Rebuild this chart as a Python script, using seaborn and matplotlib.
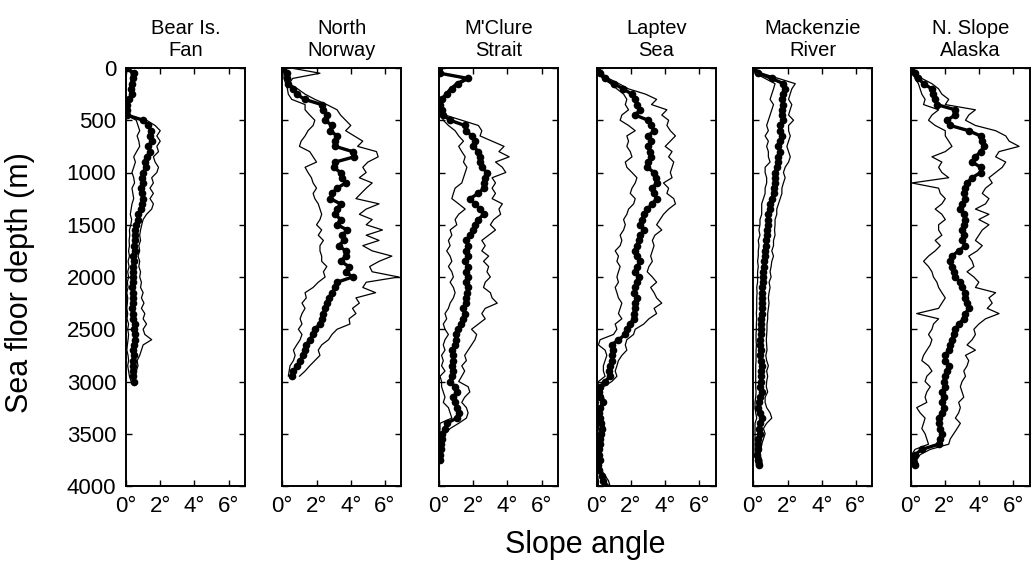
import numpy as np
import matplotlib
matplotlib.use("Agg")
import matplotlib.pyplot as plt
import seaborn as sns

# ---------------- data (slope angle in degrees, sampled every 50 m of depth) ----------------
STEP_M = 50

regions = ["Bear Is.\nFan", "North\nNorway", "M'Clure\nStrait", "Laptev\nSea",
           "Mackenzie\nRiver", "N. Slope\nAlaska"]

bear_mean = [0.05, 0.45, 0.4, 0.35, 0.3, 0.35, 0.2, 0.05, 0.05, 0.05,
             1.0, 1.3, 1.45, 1.4, 1.5, 1.3, 1.4, 1.2, 1.1, 1.15,
             1.0, 0.95, 1.0, 0.9, 0.92, 0.98, 0.95, 0.9, 0.72, 0.68,
             0.6, 0.55, 0.5, 0.52, 0.45, 0.5, 0.42, 0.45, 0.4, 0.42,
             0.38, 0.4, 0.35, 0.4, 0.38, 0.42, 0.35, 0.4, 0.42, 0.5,
             0.45, 0.5, 0.55, 0.45, 0.4, 0.45, 0.4, 0.42, 0.38, 0.4,
             0.45]
bear_upper = [0.1, 0.55, 0.5, 0.45, 0.4, 0.45, 0.3, 0.1, 0.1, 0.1,
              1.2, 1.7, 2.0, 1.8, 2.0, 1.8, 1.9, 1.6, 1.7, 1.9,
              1.8, 1.5, 1.6, 1.4, 1.6, 1.4, 1.6, 1.5, 1.2, 1.0,
              0.92, 0.85, 0.8, 0.85, 0.75, 0.8, 0.7, 0.8, 0.75, 0.85,
              0.8, 0.9, 0.85, 1.0, 0.9, 1.05, 0.9, 1.1, 1.0, 1.2,
              1.0, 1.1, 1.5, 1.0, 0.9, 0.8, 0.65, 0.7, 0.6, 0.55,
              0.5]
bear_lower = [0.0, 0.3, 0.3, 0.25, 0.2, 0.25, 0.1, 0.0, 0.0, 0.0,
              0.6, 0.7, 0.8, 0.65, 0.75, 0.8, 0.62, 0.45, 0.55, 0.45,
              0.35, 0.45, 0.5, 0.35, 0.4, 0.45, 0.35, 0.3, 0.25, 0.33,
              0.28, 0.2, 0.22, 0.18, 0.2, 0.15, 0.2, 0.12, 0.18, 0.1,
              0.15, 0.08, 0.12, 0.05, 0.1, 0.08, 0.05, 0.1, 0.06, 0.15,
              0.1, 0.15, 0.12, 0.08, 0.05, 0.12, 0.15, 0.1, 0.15, 0.2,
              0.3]

norway_mean = [0.05, 0.3, 0.25, 0.35, 0.6, 0.84, 1.3, 2.3, 2.4, 2.6,
               2.5, 2.9, 2.8, 3.2, 3.1, 3.1, 4.1, 4.2, 3.1, 3.0,
               3.4, 3.5, 3.7, 3.2, 2.9, 2.8, 3.4, 3.2, 3.1, 3.4,
               3.2, 3.8, 3.5, 3.6, 3.3, 3.7, 3.7, 3.4, 3.9, 3.7,
               4.1, 3.2, 3.1, 2.9, 2.7, 2.6, 2.5, 2.4, 2.3, 2.2,
               1.9, 1.8, 1.6, 1.4, 1.3, 1.2, 1.04, 0.85, 0.65, 0.55]
norway_upper = [0.5, 2.2, 0.6, 0.4, 0.9, 1.33, 1.9, 2.6, 3.2, 3.4,
                3.7, 4.0, 3.7, 4.2, 4.7, 4.4, 5.5, 5.6, 5.0, 4.7,
                4.9, 4.5, 5.25, 4.9, 4.6, 4.3, 5.65, 4.9, 4.5, 5.25,
                4.9, 5.85, 4.9, 5.65, 4.7, 5.25, 6.4, 5.65, 5.1, 5.25,
                6.8, 4.9, 4.7, 5.45, 4.3, 4.5, 4.1, 4.3, 3.9, 3.95,
                3.2, 2.9, 2.7, 2.3, 2.1, 2.2, 1.9, 1.6, 1.33, 1.0]
norway_lower = [0.0, 0.1, 0.1, 0.2, 0.3, 0.35, 0.55, 1.33, 1.33, 1.6,
                1.9, 1.8, 1.5, 1.33, 1.1, 1.0, 1.6, 1.8, 2.0, 1.33,
                1.5, 1.7, 1.8, 2.0, 1.8, 1.9, 2.1, 2.2, 2.3, 2.2,
                2.0, 2.3, 2.1, 2.4, 2.2, 2.2, 2.3, 2.3, 2.6, 2.4,
                2.5, 2.1, 1.8, 1.33, 1.4, 1.15, 1.33, 1.15, 1.04, 1.15,
                0.94, 1.15, 1.04, 0.84, 0.65, 0.75, 0.65, 0.45, 0.4, 0.35]

mclure_mean = [0.02, 0.05, 1.7, 1.1, 0.75, 0.45, 0.15, 0.05, 0.15, 0.25,
               0.65, 1.5, 1.6, 1.9, 2.1, 2.0, 2.3, 2.4, 2.4, 2.5,
               2.8, 2.7, 2.6, 2.6, 2.3, 1.8, 2.1, 2.4, 2.6, 2.3,
               2.1, 2.0, 1.8, 1.6, 1.7, 1.6, 1.7, 1.5, 1.7, 1.6,
               1.7, 1.6, 1.7, 1.65, 1.6, 1.55, 1.4, 1.5, 1.4, 1.3,
               1.1, 1.0, 1.0, 0.94, 0.75, 0.84, 0.84, 0.75, 0.84, 0.75,
               0.65, 0.94, 1.04, 0.84, 0.94, 1.04, 1.15, 1.04, 0.45, 0.35,
               0.2, 0.16, 0.12, 0.1, 0.08, 0.06]
mclure_upper = [0.05, 0.1, 1.8, 1.2, 0.85, 0.55, 0.25, 0.1, 0.2, 0.35,
                1.33, 2.3, 2.5, 2.4, 3.1, 3.8, 3.5, 4.1, 3.3, 3.7,
                3.9, 3.1, 3.3, 3.1, 3.3, 3.1, 3.7, 3.5, 3.6, 3.2,
                3.0, 3.3, 2.9, 2.5, 2.7, 2.5, 2.9, 2.6, 2.9, 2.8,
                3.0, 2.7, 2.6, 3.0, 3.1, 3.4, 2.7, 2.5, 2.7, 2.3,
                1.9, 2.2, 2.1, 1.9, 1.7, 1.5, 1.6, 1.33, 1.5, 1.33,
                1.15, 1.7, 1.8, 1.5, 1.33, 1.6, 1.7, 1.6, 1.15, 0.65,
                0.35, 0.3, 0.25, 0.2, 0.15, 0.12]
mclure_lower = [0.0, 0.0, 1.5, 0.95, 0.6, 0.35, 0.05, 0.0, 0.05, 0.15,
                0.25, 0.55, 0.94, 1.15, 1.43, 1.15, 1.33, 1.53, 1.43, 1.63,
                1.53, 1.43, 1.33, 0.94, 0.84, 0.75, 1.15, 1.53, 1.15, 0.94,
                1.04, 0.65, 0.75, 0.55, 0.65, 0.45, 0.65, 0.75, 0.55, 0.75,
                0.84, 0.65, 0.84, 0.94, 0.84, 0.65, 0.55, 0.35, 0.45, 0.25,
                0.35, 0.55, 0.35, 0.25, 0.35, 0.15, 0.25, 0.15, 0.35, 0.06,
                0.15, 0.15, 0.25, 0.35, 0.25, 0.55, 0.65, 0.75, 0.06, 0.06,
                0.04, 0.04, 0.02, 0.02, 0.02, 0.02]

laptev_mean = [0.0, 0.2, 0.5, 1.0, 1.55, 2.05, 2.25, 2.35, 2.55, 2.25,
               3.0, 3.2, 3.35, 3.0, 3.2, 3.0, 3.1, 3.2, 3.0, 2.95,
               3.35, 3.45, 3.5, 3.25, 3.35, 3.5, 3.25, 2.95, 2.75, 2.65,
               2.55, 2.75, 2.55, 2.45, 2.35, 2.25, 2.35, 2.55, 2.35, 2.25,
               2.45, 2.35, 2.25, 2.2, 2.35, 2.25, 2.25, 2.15, 2.15, 1.95,
               1.76, 1.67, 1.27, 0.88, 0.98, 0.88, 0.88, 0.78, 0.69, 0.78,
               0.49, 0.2, 0.14, 0.2, 0.39, 0.2, 0.14, 0.18, 0.25, 0.33,
               0.24, 0.2, 0.2, 0.14, 0.16, 0.2, 0.1, 0.14, 0.29, 0.39,
               0.49]
laptev_upper = [0.05, 0.3, 0.7, 1.3, 1.86, 2.85, 3.5, 3.2, 4.1, 3.8,
                4.2, 4.1, 4.3, 4.6, 4.3, 4.0, 4.4, 4.2, 4.5, 4.4,
                4.3, 4.4, 3.9, 4.2, 4.1, 4.5, 4.6, 4.2, 3.9, 3.7,
                3.5, 3.8, 3.4, 3.25, 3.35, 3.25, 3.15, 3.25, 3.05, 2.95,
                3.25, 3.5, 3.15, 3.35, 3.5, 3.8, 3.35, 3.5, 3.05, 2.75,
                2.25, 2.15, 1.76, 1.67, 1.76, 1.47, 1.27, 1.18, 1.08, 1.18,
                0.88, 0.39, 0.29, 0.39, 0.49, 0.33, 0.25, 0.29, 0.39, 0.49,
                0.39, 0.33, 0.29, 0.2, 0.25, 0.29, 0.2, 0.29, 0.49, 0.69,
                0.78]
laptev_lower = [0.0, 0.1, 0.35, 0.8, 1.18, 1.57, 1.76, 1.67, 1.86, 1.47,
                1.37, 1.86, 2.25, 1.76, 1.86, 1.76, 1.96, 2.06, 1.67, 1.76,
                2.06, 2.35, 2.25, 2.06, 1.96, 2.25, 2.16, 1.86, 1.76, 1.57,
                1.67, 1.57, 1.37, 1.47, 1.37, 1.08, 1.27, 1.18, 1.37, 1.27,
                1.18, 1.27, 1.08, 1.18, 1.27, 1.47, 1.37, 1.27, 1.47, 1.08,
                1.18, 0.98, 0.2, 0.1, 0.49, 0.59, 0.49, 0.39, 0.39, 0.49,
                0.1, 0.06, 0.02, 0.04, 0.1, 0.06, 0.04, 0.06, 0.1, 0.1,
                0.06, 0.06, 0.06, 0.04, 0.04, 0.06, 0.02, 0.02, 0.06, 0.1,
                0.1]

mackenzie_mean = [0.0, 0.3, 1.08, 1.76, 1.86, 1.76, 1.67, 1.76, 1.67, 1.67,
                  1.76, 1.57, 1.57, 1.67, 1.57, 1.47, 1.57, 1.47, 1.47, 1.37,
                  1.27, 1.27, 1.27, 1.18, 1.18, 1.08, 0.98, 0.98, 0.88, 0.88,
                  0.84, 0.78, 0.78, 0.73, 0.73, 0.69, 0.69, 0.65, 0.65, 0.59,
                  0.59, 0.59, 0.53, 0.53, 0.49, 0.53, 0.49, 0.49, 0.45, 0.45,
                  0.43, 0.43, 0.41, 0.41, 0.43, 0.39, 0.43, 0.49, 0.45, 0.45,
                  0.43, 0.41, 0.49, 0.39, 0.33, 0.29, 0.39, 0.49, 0.39, 0.33,
                  0.39, 0.29, 0.25, 0.25, 0.22, 0.29, 0.33]
mackenzie_upper = [0.05, 0.5, 1.47, 2.45, 2.25, 2.15, 2.06, 2.25, 2.15, 2.06,
                   2.35, 2.06, 2.06, 2.16, 2.06, 1.96, 2.06, 2.16, 2.06, 1.86,
                   1.76, 1.86, 1.76, 1.67, 1.67, 1.57, 1.47, 1.37, 1.37, 1.27,
                   1.27, 1.24, 1.27, 1.18, 1.18, 1.08, 1.18, 1.08, 1.04, 0.98,
                   1.04, 0.92, 0.98, 0.92, 0.88, 0.92, 0.88, 0.84, 0.84, 0.8,
                   0.8, 0.78, 0.76, 0.78, 0.8, 0.73, 0.78, 0.88, 0.78, 0.84,
                   0.78, 0.76, 0.84, 0.69, 0.69, 0.78, 0.98, 1.08, 0.78, 0.59,
                   0.69, 0.59, 0.49, 0.45, 0.39, 0.49, 0.53]
mackenzie_lower = [0.0, 0.1, 0.69, 1.27, 1.18, 1.08, 0.98, 1.18, 1.08, 0.98,
                   0.88, 0.78, 0.88, 0.69, 0.88, 0.78, 0.88, 0.88, 0.98, 0.69,
                   0.69, 0.78, 0.78, 0.69, 0.69, 0.59, 0.49, 0.49, 0.49, 0.39,
                   0.39, 0.33, 0.39, 0.29, 0.33, 0.29, 0.29, 0.25, 0.29, 0.25,
                   0.25, 0.25, 0.2, 0.22, 0.2, 0.2, 0.2, 0.18, 0.2, 0.18,
                   0.18, 0.16, 0.16, 0.18, 0.16, 0.16, 0.16, 0.14, 0.14, 0.14,
                   0.14, 0.14, 0.16, 0.14, 0.1, 0.1, 0.14, 0.2, 0.1, 0.1,
                   0.1, 0.1, 0.1, 0.1, 0.1, 0.14, 0.18]

nslope_mean = [0.0, 0.25, 0.45, 0.75, 1.24, 1.33, 1.43, 1.53, 2.6, 2.6,
               2.12, 2.31, 3.39, 4.08, 4.18, 4.27, 4.08, 3.78, 3.59, 4.08,
               4.08, 3.59, 3.29, 3.2, 3.1, 3.2, 3.0, 2.9, 3.1, 3.2,
               3.1, 3.0, 3.1, 3.0, 3.2, 2.8, 2.41, 2.31, 2.41, 2.51,
               2.61, 2.9, 3.0, 3.2, 3.2, 3.3, 3.39, 3.2, 3.1, 2.8,
               2.61, 2.51, 2.41, 2.31, 2.22, 2.02, 2.02, 2.22, 2.12, 2.02,
               1.92, 2.02, 1.82, 1.92, 1.82, 1.92, 1.82, 1.63, 1.63, 1.73,
               1.82, 1.73, 1.63, 0.65, 0.25, 0.16, 0.25]
nslope_upper = [0.05, 0.35, 0.65, 1.24, 1.63, 1.82, 2.22, 2.02, 3.78, 3.39,
                3.2, 3.78, 4.96, 5.55, 5.75, 6.33, 5.16, 4.96, 5.55, 5.35,
                4.96, 4.57, 4.76, 4.37, 4.18, 4.57, 4.37, 3.78, 4.57, 3.98,
                4.57, 4.18, 3.98, 3.78, 4.18, 3.88, 3.39, 3.59, 3.69, 3.29,
                3.69, 3.98, 3.78, 4.96, 4.57, 4.76, 4.47, 5.16, 4.37, 3.98,
                3.69, 3.78, 3.59, 3.29, 3.78, 3.2, 3.39, 3.29, 3.1, 3.2,
                3.0, 2.9, 3.0, 3.1, 2.8, 2.9, 2.8, 2.61, 2.9, 2.71,
                2.51, 2.31, 2.22, 1.14, 0.55, 0.35, 0.45]
nslope_lower = [0.0, 0.16, 0.25, 0.45, 0.55, 0.65, 0.84, 0.75, 1.63, 1.24,
                1.04, 1.43, 2.02, 2.02, 2.22, 2.41, 2.02, 1.24, 1.82, 1.63,
                1.82, 2.22, 0.06, 1.63, 1.73, 2.02, 1.82, 1.43, 1.82, 2.02,
                1.63, 1.63, 1.82, 1.43, 1.73, 1.43, 1.04, 0.75, 1.04, 1.24,
                1.33, 1.53, 1.63, 1.82, 2.02, 1.82, 1.63, 0.35, 1.63, 1.33,
                1.24, 1.04, 1.24, 1.14, 0.94, 0.75, 0.65, 1.04, 1.24, 0.94,
                0.84, 1.14, 0.94, 0.84, 0.94, 0.35, 0.55, 0.84, 0.75, 0.65,
                0.84, 0.94, 1.04, 0.25, 0.06, 0.02, 0.06]

series = [
    (bear_mean, bear_upper, bear_lower),
    (norway_mean, norway_upper, norway_lower),
    (mclure_mean, mclure_upper, mclure_lower),
    (laptev_mean, laptev_upper, laptev_lower),
    (mackenzie_mean, mackenzie_upper, mackenzie_lower),
    (nslope_mean, nslope_upper, nslope_lower),
]

x_ticks = [0, 2, 4, 6]
x_ticklabels = ["0°", "2°", "4°", "6°"]
y_ticks = [0, 500, 1000, 1500, 2000, 2500, 3000, 3500, 4000]

# ---------------- figure ----------------
sns.set_style("ticks")
plt.rcParams['font.family'] = ['Liberation Sans', 'DejaVu Sans']
plt.rcParams['text.color'] = 'black'
plt.rcParams['axes.labelcolor'] = 'black'
plt.rcParams['xtick.color'] = 'black'
plt.rcParams['ytick.color'] = 'black'

W, H = 1032, 563
fig = plt.figure(figsize=(W / 100, H / 100), dpi=100)

lefts_px = [126, 282.3, 439, 596.7, 753.3, 910.7]
width_px = 119
top_px, bottom_px = 68, 486

for i, (name, (m, u, l)) in enumerate(zip(regions, series)):
    ax = fig.add_axes([lefts_px[i] / W, 1 - bottom_px / H,
                       width_px / W, (bottom_px - top_px) / H])
    depth = np.arange(len(m)) * STEP_M
    for env in (u, l):
        sns.lineplot(x=np.array(env), y=depth, sort=False, estimator=None,
                     color="black", linewidth=0.9, ax=ax)
    sns.lineplot(x=np.array(m), y=depth, sort=False, estimator=None,
                 color="black", linewidth=2.4, marker="o", markersize=5.5,
                 markeredgewidth=0, ax=ax)
    ax.set_xlim(0, 6.95)
    ax.set_ylim(4000, 0)
    ax.set_xticks(x_ticks)
    ax.set_xticklabels(x_ticklabels)
    ax.set_yticks(y_ticks)
    if i == 0:
        ax.set_yticklabels([str(v) for v in y_ticks])
    else:
        ax.set_yticklabels([])
    ax.tick_params(direction="in", top=True, right=True, length=4, width=1,
                   labelsize=16, colors="black", pad=7)
    ax.set_xlabel("")
    ax.set_ylabel("")
    for sp in ax.spines.values():
        sp.set_visible(True)
        sp.set_linewidth(1.4)
        sp.set_color("black")
    ax.set_title(name, fontsize=14.5, pad=9, linespacing=1.15, color="black")

fig.text(20 / W, 1 - 283 / H, "Sea floor depth (m)", rotation=90,
         ha="center", va="center", fontsize=22, color="black")
fig.text(585 / W, 1 - 553 / H, "Slope angle", ha="center", va="baseline",
         fontsize=22, color="black")

fig.savefig("out.png", dpi=100, facecolor="white")
